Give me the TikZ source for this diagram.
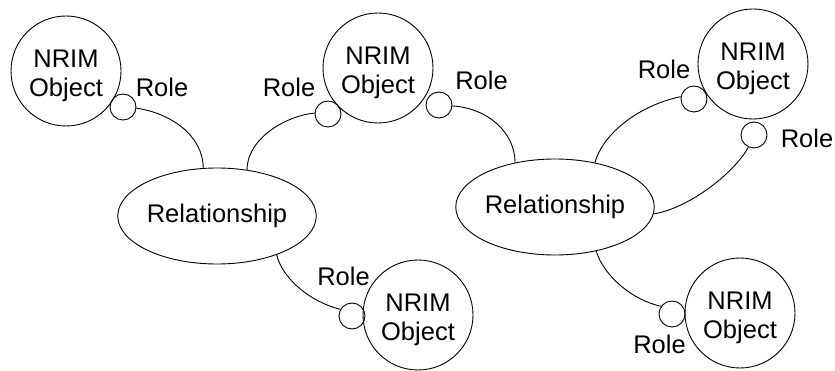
\documentclass[tikz,border=0pt]{standalone}
\usepackage{fontspec}
\setmainfont{Liberation Sans}
\usetikzlibrary{shapes.geometric}
% two-line entity caption; the strut lowers the block slightly inside the circle
\newcommand{\entitytext}{\rule{0pt}{27pt}NRIM\\Object}
\begin{document}
\begin{tikzpicture}[x=1pt,y=-1pt,line width=0.9pt,
  every node/.style={font=\fontsize{25.5}{28.5}\selectfont},
  object/.style={draw,circle,minimum size=110pt,inner sep=0pt,align=center},
  rolept/.style={draw,circle,minimum size=26pt,inner sep=0pt},
  relation/.style={draw,ellipse,minimum width=180pt,minimum height=96pt,inner sep=0pt},
  rolelabel/.style={anchor=base,inner sep=0pt}]
\useasboundingbox (0,0) rectangle (835,371);

% entities
\node[object] (o1) at (66,71)  {\entitytext};
\node[object] (o2) at (378,68) {\entitytext};
\node[object] (o3) at (753,64) {\entitytext};
\node[object] (o4) at (418,315) {\entitytext};
\node[object] (o5) at (740,313) {\entitytext};

% relationships
\node[relation] (e1) at (217,216) {Relationship};
\node[relation] (e2) at (555,207) {Relationship};

% role attachment points
\node[rolept] (r1) at (123,107) {};
\node[rolept] (r2) at (328,114) {};
\node[rolept] (r3) at (439,105) {};
\node[rolept] (r4) at (694,99) {};
\node[rolept] (r5) at (754,135) {};
\node[rolept] (r6) at (352,316) {};
\node[rolept] (r7) at (672,314) {};

% role labels
\node[rolelabel] (l1) at (162,97) {Role};
\node[rolelabel] (l2) at (289,97) {Role};
\node[rolelabel] (l3) at (481.5,90) {Role};
\node[rolelabel] (l4) at (664,79) {Role};
\node[rolelabel] (l5) at (807,148) {Role};
\node[rolelabel] (l6) at (343.5,286) {Role};
\node[rolelabel] (l7) at (659.5,353) {Role};

% links between roles and relationships
\draw (r1.-5) .. controls (170,113) and (203,135) .. (e1.106);
\draw (e1.57) .. controls (247,139) and (285,116) .. (r2.176);
\draw (r3.-4) .. controls (487,108) and (515,132) .. (e2.132);
\draw (e2.48) .. controls (603,133) and (640,105) .. (r4.170);
\draw (r5.-115) .. controls (735,172) and (690,208) .. (e2.-4);
\draw (e1.-33) .. controls (282,278) and (310,302) .. (r6.150);
\draw (e2.-47) .. controls (604,276) and (632,300) .. (r7.145);
\end{tikzpicture}
\end{document}
